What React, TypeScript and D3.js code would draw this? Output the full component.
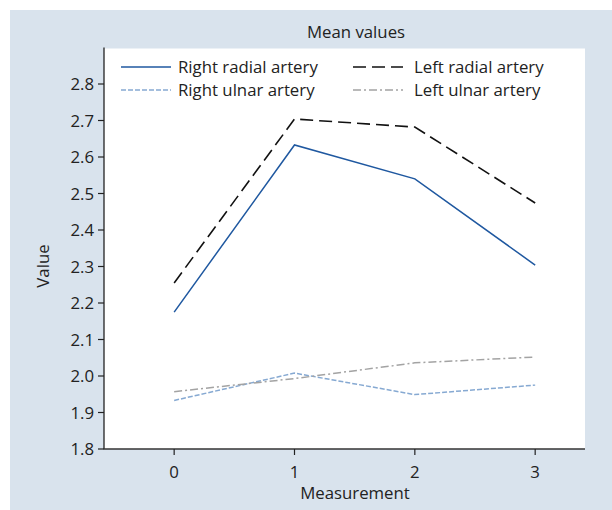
import React from "react";
import * as d3 from "d3";

const measurements = [0, 1, 2, 3];
const rightRadial = [2.175, 2.633, 2.54, 2.304];
const leftRadial = [2.255, 2.704, 2.682, 2.474];
const rightUlnar = [1.933, 2.008, 1.949, 1.975];
const leftUlnar = [1.957, 1.993, 2.036, 2.052];
const yTicks = [1.8, 1.9, 2.0, 2.1, 2.2, 2.3, 2.4, 2.5, 2.6, 2.7, 2.8];
const xTicks = [0, 1, 2, 3];

const series = [
  { name: "Right radial artery", values: rightRadial, color: "#1f58a0", dash: "", width: 1.5 },
  { name: "Left radial artery", values: leftRadial, color: "#111111", dash: "13,6", width: 1.6 },
  { name: "Right ulnar artery", values: rightUlnar, color: "#86a9d2", dash: "5,2", width: 1.5 },
  { name: "Left ulnar artery", values: leftUlnar, color: "#a3a3a3", dash: "8,3,2,3", width: 1.5 },
];

const W = 612;
const H = 510;
const font = "'Open Sans', 'Noto Sans', sans-serif";
const fs = 16.8;
const textColor = "#222";

export default function App() {
  const left = 104, right = 585, top = 47.5, bottom = 449;
  const x = d3.scaleLinear().domain([-0.583, 3.414]).range([left, right]);
  const y = d3.scaleLinear().domain([1.8, 2.9]).range([bottom, top]);
  const line = d3
    .line<number>()
    .x((_, i) => x(measurements[i]))
    .y((d) => y(d));

  const legendPos = [
    { lx: 121, ly: 67 },
    { lx: 353, ly: 67 },
    { lx: 121, ly: 90 },
    { lx: 353, ly: 90 },
  ];

  return (
    <svg width={W} height={H} style={{ position: "absolute", left: 0, top: 0 }}>
      <rect x={10} y={10} width={W - 10} height={H - 10} fill="#d9e3ed" />
      <rect x={left} y={top + 1} width={right - left} height={bottom - top - 1} fill="#ffffff" />
      <text x={356} y={38} textAnchor="middle" fontFamily={font} fontSize={fs} fill={textColor}>
        Mean values
      </text>
      {series.map((s) => (
        <path
          key={s.name}
          d={line(s.values) || ""}
          fill="none"
          stroke={s.color}
          strokeWidth={s.width}
          strokeDasharray={s.dash || undefined}
          strokeLinejoin="miter"
        />
      ))}
      {series.map((s, i) => (
        <g key={"lg" + s.name}>
          <line
            x1={legendPos[i].lx}
            x2={legendPos[i].lx + 50}
            y1={legendPos[i].ly}
            y2={legendPos[i].ly}
            stroke={s.color}
            strokeWidth={s.width}
            strokeDasharray={s.dash || undefined}
          />
          <text
            x={legendPos[i].lx + (i % 2 === 0 ? 57 : 61)}
            y={legendPos[i].ly + 6}
            fontFamily={font}
            fontSize={fs}
            fill={textColor}
          >
            {s.name}
          </text>
        </g>
      ))}
      {/* axes */}
      <line x1={left} x2={left} y1={top} y2={bottom} stroke="#222" strokeWidth={1.3} />
      <line x1={left - 0.5} x2={right} y1={bottom} y2={bottom} stroke="#333" strokeWidth={1.3} />
      {yTicks.map((t) => (
        <g key={"y" + t}>
          <line x1={left - 6} x2={left} y1={y(t)} y2={y(t)} stroke="#222" strokeWidth={1.2} />
          <text
            x={left - 10}
            y={y(t)}
            dy="0.36em"
            textAnchor="end"
            fontFamily={font}
            fontSize={fs}
            fill={textColor}
          >
            {t.toFixed(1)}
          </text>
        </g>
      ))}
      {xTicks.map((t) => (
        <g key={"x" + t}>
          <line x1={x(t)} x2={x(t)} y1={bottom} y2={bottom + 6} stroke="#222" strokeWidth={1.2} />
          <text x={x(t)} y={478} textAnchor="middle" fontFamily={font} fontSize={fs} fill={textColor}>
            {t}
          </text>
        </g>
      ))}
      <text x={355} y={499} textAnchor="middle" fontFamily={font} fontSize={fs} fill={textColor}>
        Measurement
      </text>
      <text
        transform={`translate(49,266) rotate(-90)`}
        textAnchor="middle"
        fontFamily={font}
        fontSize={fs}
        fill={textColor}
      >
        Value
      </text>
    </svg>
  );
}
